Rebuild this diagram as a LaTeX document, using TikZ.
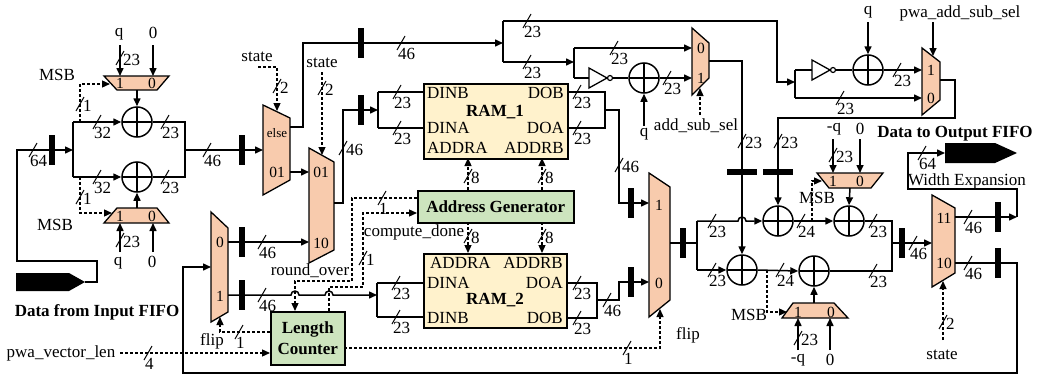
\documentclass[tikz,border=0pt]{standalone}
\usepackage{fontspec}
\setmainfont{Liberation Serif}
\usetikzlibrary{arrows.meta}
\definecolor{muxc}{RGB}{248,203,173}
\definecolor{ramc}{RGB}{255,242,204}
\definecolor{genc}{RGB}{205,228,190}
\tikzset{
 wire/.style={line width=1.5pt},
 arr/.style={-{Triangle[length=8pt,width=7pt]}},
 dsh/.style={line width=1.3pt, dash pattern=on 3pt off 2pt},
 muxs/.style={fill=muxc, draw=black, line width=1.3pt},
 lbl/.style={font=\fontsize{17}{19}\selectfont, inner sep=0pt},
 blbl/.style={font=\fontsize{17}{19}\selectfont\bfseries, inner sep=0pt},
 mlbl/.style={font=\fontsize{15.5}{17}\selectfont, inner sep=0pt},
 adder/.style={circle, draw, line width=1.5pt, minimum size=30pt, inner sep=0pt,
   path picture={\draw[line width=1.5pt] (path picture bounding box.north) -- (path picture bounding box.south)
     (path picture bounding box.west) -- (path picture bounding box.east);}},
 boxs/.style={draw, line width=1.5pt, inner sep=0pt, anchor=north west},
}
\newcommand\busv[1]{\fill (#1) ++(-3,-15) rectangle ++(6,30);}
\newcommand\bush[1]{\fill (#1) ++(-15,-3) rectangle ++(30,6);}
\newcommand\hsl[2]{\draw[line width=1pt] (#1) ++(-4,7) -- ++(8,-14); \path (#1) ++(-3,5) node[lbl,anchor=north west] {#2};}
\newcommand\vsl[2]{\draw[line width=1pt] (#1) ++(-4,7) -- ++(8,-14); \path (#1) ++(3,2) node[lbl,anchor=west] {#2};}
\begin{document}
\begin{tikzpicture}[x=1pt,y=-1pt]
\useasboundingbox (0,0) rectangle (1046,380);

% ---------------- adders
\node[adder] (a1) at (137,122) {};
\node[adder] (a2) at (137,177) {};
\node[adder] (a5) at (644,78) {};
\node[adder] (a6) at (868,70) {};
\node[adder] (a3) at (778,221) {};
\node[adder] (a4) at (742,270) {};
\node[adder] (a7) at (849,221) {};
\node[adder] (a8) at (814,271) {};

% ---------------- boxes
\node[boxs, fill=ramc, minimum width=144pt, minimum height=75pt] (ram1) at (423,83) {};
\node[lbl, anchor=west] at (427,93) {DINB};
\node[lbl, anchor=east] at (564,93) {DOB};
\node[blbl] at (495,112) {RAM\_1};
\node[lbl, anchor=west] at (427,128) {DINA};
\node[lbl, anchor=east] at (564,128) {DOA};
\node[lbl, anchor=west] at (427,148) {ADDRA};
\node[lbl, anchor=east] at (564,148) {ADDRB};

\node[boxs, fill=ramc, minimum width=143pt, minimum height=74pt] (ram2) at (423,253) {};
\node[lbl, anchor=west] at (430,263) {ADDRA};
\node[lbl, anchor=east] at (563,263) {ADDRB};
\node[lbl, anchor=west] at (427,283) {DINA};
\node[lbl, anchor=east] at (563,283) {DOA};
\node[blbl] at (495,300) {RAM\_2};
\node[lbl, anchor=west] at (427,318) {DINB};
\node[lbl, anchor=east] at (563,318) {DOB};

\node[boxs, fill=genc, minimum width=156pt, minimum height=32pt, font=\fontsize{17}{19}\selectfont\bfseries] (ag) at (417,190) {Address Generator};
\node[boxs, fill=genc, minimum width=74pt, minimum height=53pt, align=center, font=\fontsize{17}{21}\selectfont\bfseries] (lc) at (270,311) {Length\\Counter};

% ---------------- input FIFO and left adders
\fill (16,273) -- (69,273) -- (85,282) -- (69,291) -- (16,291) -- cycle;
\coordinate (infifo) at (85,282);
\node[blbl] at (97,312) {Data from Input FIFO};
\coordinate (jL) at (73,150);
\draw[wire,arr] (infifo) -- (97,282) -- (97,261) -- (17,261) -- (17,150) -- (jL);
\busv{52,150} \hsl{33,150}{64}
\draw[wire] (73,122) -- (73,177);
\draw[wire,arr] (73,122) -- (a1.west);
\draw[wire,arr] (73,177) -- (a2.west);
\hsl{97,122}{32} \hsl{97,177}{32}
\draw[wire] (a1.east) -- (185,122) -- (185,177) -- (a2.east);
\hsl{165,122}{23} \hsl{165,177}{23}
\draw[wire,arr] (185,150) -- (263,150);
\busv{242,150} \hsl{207,150}{46}

% top-left mux
\draw[muxs] (104,76) -- (169,76) -- (157,90) -- (117,90) -- cycle;
\node[mlbl] at (120,83) {1}; \node[mlbl] at (152,83) {0};
\node[lbl] at (119,34) {q}; \node[lbl] at (153,33) {0};
\draw[wire,arr] (120,45) -- (120,76);
\draw[wire,arr] (153,45) -- (153,76);
\vsl{120,58}{23}
\draw[wire,arr] (137,90) -- (a1.north);
\draw[dsh,arr] (80,122) -- (80,84) -- (110,84);
\vsl{80,104}{1}
\node[lbl] at (57,75) {MSB};

% bottom-left mux
\draw[muxs] (117,208) -- (157,208) -- (169,223) -- (104,223) -- cycle;
\node[mlbl] at (120,216) {1}; \node[mlbl] at (152,216) {0};
\draw[wire,arr] (120,252) -- (120,223);
\draw[wire,arr] (153,252) -- (153,223);
\vsl{120,240}{23}
\node[lbl] at (118,263) {q}; \node[lbl] at (152,262) {0};
\draw[wire,arr] (137,208) -- (a2.south);
\draw[dsh,arr] (80,177) -- (80,213) -- (112,213);
\vsl{80,197}{1}
\node[lbl] at (55,225) {MSB};

% ---------------- state muxes
\draw[muxs] (263,105) -- (290,118) -- (290,180) -- (263,195) -- cycle;
\node[font=\fontsize{13}{15}\selectfont, inner sep=0pt] at (277,133) {else};
\node[mlbl] at (277,172) {01};
\node[lbl] at (257,57) {state};
\draw[dsh,arr] (258,67) -- (277,67) -- (277,111);
\vsl{277,86}{2}
\draw[wire,arr] (290,127) -- (303,127) -- (303,43) -- (503,43);
\busv{361,43} \hsl{401,43}{46}
\draw[wire,arr] (290,172) -- (309,172);

\draw[muxs] (309,148) -- (334,162) -- (334,250) -- (309,263) -- cycle;
\node[mlbl] at (321,172) {01}; \node[mlbl] at (321,243) {10};
\node[lbl] at (322,63) {state};
\draw[dsh,arr] (322,72) -- (322,155);
\vsl{322,88}{2}
\draw[wire,arr] (334,203) -- (343,203) -- (343,110) -- (378,110);
\busv{361,110} \vsl{343,148}{46}
\draw[wire] (378,92) -- (378,128);
\draw[wire] (378,92) -- (423,92);
\draw[wire] (378,128) -- (423,128);
\hsl{397,92}{23} \hsl{397,128}{23}

% ---------------- address generator links
\draw[dsh,arr] (468,190) -- (468,158); \vsl{468,176}{8}
\draw[dsh,arr] (542,190) -- (542,158); \vsl{542,176}{8}
\draw[dsh,arr] (468,222) -- (468,253); \vsl{468,236}{8}
\draw[dsh,arr] (542,222) -- (542,253); \vsl{542,236}{8}

% RAM outputs
\draw[wire] (567,92) -- (605,92) -- (605,128) -- (567,128);
\hsl{577,92}{23} \hsl{577,128}{23}
\draw[wire,arr] (605,110) -- (619,110) -- (619,203) -- (649,203);
\busv{631,203} \vsl{619,165}{46}
\draw[wire] (566,283) -- (597,283) -- (597,318) -- (566,318);
\hsl{577,283}{23} \hsl{577,318}{23}
\draw[wire,arr] (597,300) -- (619,300) -- (619,282) -- (649,282);
\busv{631,282} \hsl{607,300}{46}

% big mux
\draw[muxs] (649,173) -- (670,187) -- (670,300) -- (649,317) -- cycle;
\node[mlbl] at (659,205) {1}; \node[mlbl] at (659,283) {0};
\draw[dsh,arr] (344,348) -- (660,348) -- (660,309);
\hsl{627,348}{1}
\node[lbl] at (688,335) {flip};
\draw[wire] (670,243) -- (697,243); \busv{683,243}
\draw[wire] (697,221) -- (697,270);
\draw[wire,arr] (697,221) -- (738,221) arc(180:360:4) -- (a3.west);
\draw[wire,arr] (697,270) -- (a4.west);
\hsl{712,221}{23} \hsl{712,270}{23}

% ---------------- top right
\draw[wire] (503,21) -- (503,62);
\draw[wire,arr] (503,21) -- (777,21) -- (777,82) -- (795,82);
\draw[wire,arr] (503,62) -- (574,62);
\hsl{527,21}{23} \hsl{527,62}{23}
\draw[wire] (574,48) -- (574,78);
\draw[wire,arr] (574,48) -- (692,48); \hsl{614,48}{23}
\draw[wire] (574,78) -- (589,78);
\draw[line width=1.3pt] (589,68) -- (607,78) -- (589,88) -- cycle;
\draw[line width=1.2pt] (610,78) circle (2.5);
\draw[wire] (612.5,78) -- (a5.west);
\draw[wire,arr] (a5.east) -- (692,78); \hsl{667,78}{23}
\draw[wire,arr] (644,126) -- (a5.south); \node[lbl] at (644,134) {q};

\draw[muxs] (692,28) -- (709,43) -- (709,78) -- (692,95) -- cycle;
\node[mlbl] at (701,48) {0}; \node[mlbl] at (701,78) {1};
\draw[dsh,arr] (700,115) -- (700,88);
\node[lbl] at (696,126) {add\_sub\_sel};
\draw[wire,arr] (709,61) -- (742,61) -- (a4.north);
\bush{742,172} \vsl{742,141}{23}

\draw[wire] (795,70) -- (795,98);
\draw[wire] (795,70) -- (812,70);
\draw[line width=1.3pt] (812,60) -- (830,70) -- (812,80) -- cycle;
\draw[line width=1.2pt] (833,70) circle (2.5);
\draw[wire] (835.5,70) -- (a6.west);
\node[lbl] at (868,12) {q};
\draw[wire,arr] (868,22) -- (a6.north);
\draw[wire,arr] (a6.east) -- (922,70); \hsl{897,70}{23}
\draw[wire,arr] (795,98) -- (922,98); \hsl{840,98}{23}

\draw[muxs] (922,48) -- (940,62) -- (940,100) -- (922,115) -- cycle;
\node[mlbl] at (931,70) {1}; \node[mlbl] at (931,98) {0};
\node[lbl] at (960,13) {pwa\_add\_sub\_sel};
\draw[wire,arr] (933,22) -- (933,56);
\draw[wire,arr] (940,80) -- (955,80) -- (955,118) -- (778,118) -- (a3.north);
\bush{778,172} \vsl{778,141}{23}

% ---------------- right middle
\draw[wire,arr] (a3.east) -- (a7.west); \hsl{801,221}{24}
\draw[dsh,arr] (812,221) -- (812,181) -- (822,181);
\node[lbl] at (817,198) {MSB};
\draw[muxs] (817,173) -- (883,173) -- (871,188) -- (829,188) -- cycle;
\node[mlbl] at (833,181) {1}; \node[mlbl] at (860,181) {0};
\node[lbl] at (834,129) {-q}; \node[lbl] at (860,129) {0};
\draw[wire,arr] (833,139) -- (833,173);
\draw[wire,arr] (860,139) -- (860,173);
\vsl{833,155}{23}
\draw[wire,arr] (850,188) -- (a7.north);

\draw[wire,arr] (a4.east) -- (a8.west); \hsl{780,270}{24}
\draw[dsh,arr] (767,270) -- (767,312) -- (787,312);
\node[lbl] at (749,315) {MSB};
\draw[muxs] (793,303) -- (834,303) -- (848,318) -- (782,318) -- cycle;
\node[mlbl] at (798,312) {1}; \node[mlbl] at (831,312) {0};
\draw[wire,arr] (798,350) -- (798,318);
\draw[wire,arr] (830,350) -- (830,318);
\vsl{798,338}{23}
\node[lbl] at (798,360) {-q}; \node[lbl] at (830,360) {0};
\draw[wire,arr] (814,303) -- (a8.south);

\draw[wire] (a7.east) -- (892,221) -- (892,271) -- (a8.east);
\hsl{873,221}{23} \hsl{873,271}{23}
\draw[wire,arr] (892,243) -- (932,243); \busv{902,243} \hsl{913,243}{46}

% final mux
\draw[muxs] (932,195) -- (955,208) -- (955,273) -- (932,287) -- cycle;
\node[mlbl] at (944,218) {11}; \node[mlbl] at (944,263) {10};
\node[lbl] at (942,355) {state};
\draw[dsh,arr] (943,340) -- (943,281);
\vsl{943,322}{2}
\draw[wire,arr] (955,217) -- (1017,217);
\busv{998,217} \hsl{968,217}{46}
\draw[wire,arr] (1017,217) -- (1017,189) -- (908,189) -- (908,153) -- (945,153);
\hsl{922,153}{64}
\node[lbl] at (967,181) {Width Expansion};
\fill (945,143) -- (995,143) -- (1017,153) -- (995,163) -- (945,163) -- cycle;
\node[blbl] at (955,134) {Data to Output FIFO};

\draw[wire,arr] (955,263) -- (1017,263) -- (1017,373) -- (183,373) -- (183,267) -- (211,267);
\busv{998,263} \hsl{968,263}{46}

% ---------------- lower-left mux
\draw[muxs] (211,212) -- (228,228) -- (228,312) -- (211,322) -- cycle;
\node[mlbl] at (220,242) {0}; \node[mlbl] at (220,296) {1};
\draw[wire,arr] (228,242) -- (309,242); \busv{242,242} \hsl{262,242}{46}
\draw[wire,arr] (228,295) -- (291,295) arc(180:360:4) -- (325,295) arc(180:360:4) -- (377,295);
\busv{242,295} \hsl{262,295}{46}
\draw[wire] (377,283) -- (377,317);
\draw[wire] (377,283) -- (423,283);
\draw[wire] (377,317) -- (423,317);
\hsl{396,283}{23} \hsl{396,317}{23}

% ---------------- control
\draw[dsh,arr] (lc.west |- 0,332) -- (220,332) -- (220,317);
\hsl{239,332}{1}
\node[lbl] at (212,341) {flip};
\node[lbl] at (61,353) {pwa\_vector\_len};
\draw[dsh,arr] (120,353) -- (lc.west |- 0,353);
\hsl{148,353}{4}
\draw[dsh,arr] (ag.west |- 0,198) -- (352,198) -- (352,281) -- (295,281) -- (295,311);
\hsl{382,198}{1}
\node[lbl] at (310,271) {round\_over};
\draw[dsh,arr] (329,311) -- (329,287) -- (363,287) -- (363,213) -- (ag.west |- 0,213);
\vsl{363,258}{1}
\node[lbl] at (414,232) {compute\_done};
\end{tikzpicture}
\end{document}
